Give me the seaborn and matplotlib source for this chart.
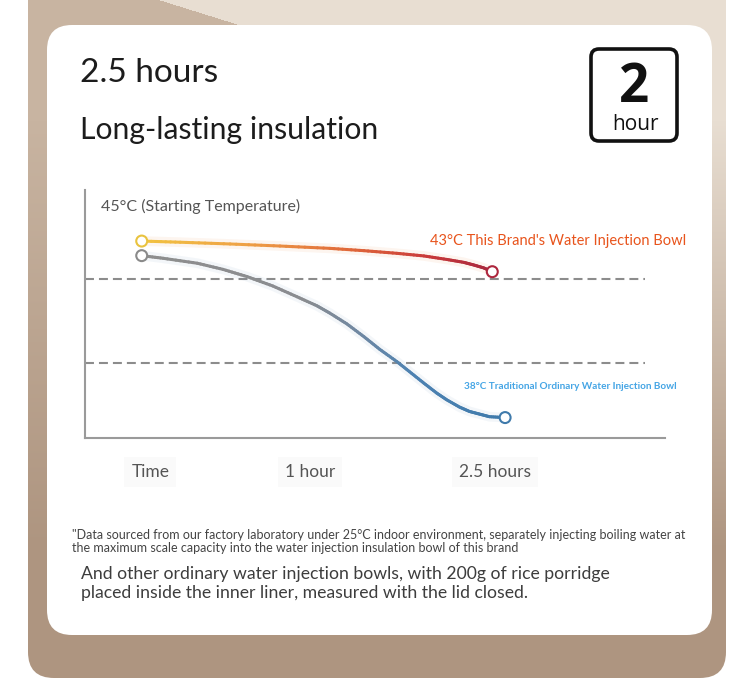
import numpy as np
import matplotlib
matplotlib.use("Agg")
import matplotlib.pyplot as plt
import seaborn as sns
from matplotlib.patches import FancyBboxPatch
from matplotlib.collections import LineCollection
from matplotlib.colors import LinearSegmentedColormap

# ---- data -------------------------------------------------------------
brand_hours = [0.0, 0.27, 0.62, 0.97, 1.32, 1.56, 1.79, 1.98, 2.14, 2.26,
               2.33, 2.40, 2.46]
brand_temp = [44.05, 44.01, 43.95, 43.88, 43.80, 43.72, 43.63, 43.54, 43.42,
              43.32, 43.23, 43.13, 43.0]

ordinary_hours = [0.0, 0.15, 0.39, 0.57, 0.74, 0.92, 1.09, 1.23, 1.32, 1.44,
                  1.56, 1.67, 1.79, 1.88, 1.98, 2.07, 2.14, 2.23, 2.30, 2.37,
                  2.44, 2.55]
ordinary_temp = [43.55, 43.46, 43.29, 43.08, 42.83, 42.51, 42.14, 41.83, 41.58,
                 41.21, 40.77, 40.34, 39.92, 39.57, 39.18, 38.84, 38.61, 38.36,
                 38.21, 38.12, 38.03, 38.0]

start_temp = 45
reference_temps = [42.75, 39.86]

tick_hours = [0.06, 1.18, 2.48]
tick_labels = ["Time", "1 hour", "2.5 hours"]

brand_name = "This Brand's Water Injection Bowl"
ordinary_name = "Traditional Ordinary Water Injection Bowl"

# ---- figure -----------------------------------------------------------
sns.set_theme(style="white")
plt.rcParams["font.family"] = ["Lato", "DejaVu Sans"]

W, H = 750, 691
fig = plt.figure(figsize=(W / 100, H / 100), dpi=100)
fig.patch.set_facecolor("white")

# background layer in pixel coordinates
bg = fig.add_axes([0, 0, 1, 1], zorder=0)
bg.set_axis_off()

yy, xx = np.mgrid[0:H, 0:W]
light = np.array([232, 222, 210]) / 255
dark = np.array([200, 180, 161]) / 255
brown = np.array([174, 149, 128]) / 255
is_dark = (xx < 160 + 3.2 * yy) & (xx < 400)
top = np.where(is_dark[..., None], dark, light)
w = np.clip((yy - 120) / 430, 0, 1)[..., None]
img = top * (1 - w) + brown * w
im = bg.imshow(img, extent=(0, W, H, 0), zorder=0, interpolation="bilinear")
frame = FancyBboxPatch((28, -60), 698, 738,
                       boxstyle="round,pad=0,rounding_size=26",
                       facecolor="none", edgecolor="none",
                       transform=bg.transData)
bg.add_patch(frame)
im.set_clip_path(frame)

card = FancyBboxPatch((47, 25), 665, 610,
                      boxstyle="round,pad=0,rounding_size=25",
                      facecolor="white", edgecolor="none", zorder=1)
bg.add_patch(card)

bg.set_xlim(0, W)
bg.set_ylim(H, 0)
bg.set_aspect("auto")

# headline
bg.text(80, 82, "2.5 hours", fontsize=24, color="#1c1c1c", va="baseline", zorder=3)
bg.text(80, 139, "Long-lasting insulation", fontsize=21.7, color="#1c1c1c",
        va="baseline", zorder=3)

# duration badge
badge = FancyBboxPatch((591, 49), 86, 92, boxstyle="round,pad=0,rounding_size=8",
                       facecolor="white", edgecolor="#111111", linewidth=2.6, zorder=2)
bg.add_patch(badge)
bg.text(634, 101.5, "2", fontsize=38, fontweight="bold", family=["Open Sans", "DejaVu Sans"],
        color="#111111", ha="center", va="baseline", zorder=3)
bg.text(635, 129.5, "hour", fontsize=15, family=["Open Sans", "DejaVu Sans"],
        color="#111111", ha="center", va="baseline", zorder=3)

# chart annotations
bg.text(101, 206, f"{start_temp}°C (Starting Temperature)", fontsize=11.5,
        color="#555555", va="center", zorder=3)
bg.text(430, 241, f"{brand_temp[-1]:.0f}°C {brand_name}", fontsize=10.5,
        color="#e8541c", va="center", zorder=3)
bg.text(464, 386, f"{ordinary_temp[-1]:.0f}°C {ordinary_name}", fontsize=7.2,
        color="#45a5e5", fontweight="bold", va="center", zorder=3)

# footnotes
bg.text(72, 539, "\"Data sourced from our factory laboratory under 25°C indoor environment, "
        "separately injecting boiling water at", fontsize=9, color="#444444",
        va="baseline", zorder=3)
bg.text(72, 552, "the maximum scale capacity into the water injection insulation bowl of this brand",
        fontsize=9, color="#444444", va="baseline", zorder=3)
bg.text(81, 579, "And other ordinary water injection bowls, with 200g of rice porridge",
        fontsize=12.7, color="#3d3d3d", va="baseline", zorder=3)
bg.text(81, 598, "placed inside the inner liner, measured with the lid closed.",
        fontsize=12.7, color="#3d3d3d", va="baseline", zorder=3)

# ---- chart ------------------------------------------------------------
ax = fig.add_axes([85 / W, 1 - 438 / H, 580 / W, 248 / H], zorder=2)
ax.patch.set_alpha(0)
ax.set_xlim(-0.398, 3.672)
ax.set_ylim(37.30, 45.80)

for side in ("top", "right"):
    ax.spines[side].set_visible(False)
for side in ("left", "bottom"):
    ax.spines[side].set_color("#9a9a9a")
    ax.spines[side].set_linewidth(1.5)

ax.hlines(reference_temps, -0.398, 3.53, colors="#8c8c8c", linewidth=1.5,
          linestyles=(0, (4.3, 2.4)), zorder=1)

brand_cmap = LinearSegmentedColormap.from_list(
    "brand", [(0.0, "#f2c440"), (0.3, "#eea046"), (0.6, "#e0683a"),
              (0.82, "#c93a3a"), (1.0, "#a8283e")])
ordinary_cmap = LinearSegmentedColormap.from_list(
    "ordinary", [(0.0, "#8e8e8e"), (0.45, "#8a8c90"), (0.6, "#7088a2"),
                 (0.75, "#4d82b2"), (1.0, "#3f7aab")])


def gradient_line(x, y, cmap, glow):
    x = np.asarray(x, dtype=float)
    y = np.asarray(y, dtype=float)
    # soft halo under the line
    sns.lineplot(x=x, y=y, ax=ax, color=glow, linewidth=7, alpha=0.08,
                 sort=False, estimator=None, zorder=2)
    # each straight segment is split into short pieces so the colour can fade
    frac = np.linspace(0, 1, 9)
    segs, mids = [], []
    for i in range(len(x) - 1):
        sx = x[i] + (x[i + 1] - x[i]) * frac
        sy = y[i] + (y[i + 1] - y[i]) * frac
        for j in range(len(frac) - 1):
            segs.append([(sx[j], sy[j]), (sx[j + 1], sy[j + 1])])
            mids.append((sx[j] + sx[j + 1]) / 2)
    lc = LineCollection(segs, cmap=cmap, norm=plt.Normalize(x.min(), x.max()),
                        linewidths=2.2, capstyle="round", joinstyle="round", zorder=3)
    lc.set_array(np.asarray(mids))
    ax.add_collection(lc)


gradient_line(brand_hours, brand_temp, brand_cmap, "#e8803a")
gradient_line(ordinary_hours, ordinary_temp, ordinary_cmap, "#6f97bd")

ends_x = [brand_hours[0], brand_hours[-1], ordinary_hours[0], ordinary_hours[-1]]
ends_y = [brand_temp[0], brand_temp[-1], ordinary_temp[0], ordinary_temp[-1]]
ends_ec = ["#e9c33f", "#ad263d", "#8a8a8a", "#3f7aab"]
sns.scatterplot(x=ends_x, y=ends_y, ax=ax, s=62, zorder=5, legend=False)
pts = ax.collections[-1]
pts.set_facecolor("white")
pts.set_edgecolor(ends_ec)
pts.set_linewidth(1.5)

ax.set_yticks([])
ax.set_xticks(tick_hours)
ax.set_xticklabels(tick_labels)
ax.tick_params(axis="x", length=0, pad=19, labelsize=12.5, labelcolor="#555555")
for lab in ax.get_xticklabels():
    lab.set_bbox(dict(facecolor="#fafafa", edgecolor="none", pad=5))
ax.set_xlabel("")
ax.set_ylabel("")
ax.grid(False)

fig.savefig("out.png", dpi=100)
